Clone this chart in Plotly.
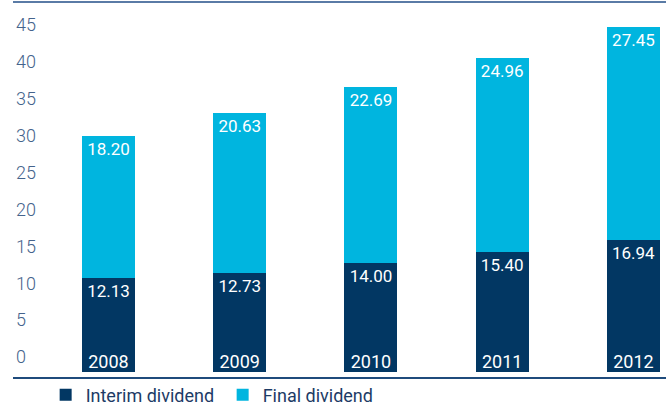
import plotly.graph_objects as go

years = ["2008", "2009", "2010", "2011", "2012"]
interim = [12.13, 12.73, 14.00, 15.40, 16.94]
final = [18.20, 20.63, 22.69, 24.96, 27.45]
tick_vals = [0, 5, 10, 15, 20, 25, 30, 35, 40, 45]

NAVY = "#023763"
CYAN = "#00b5df"
FONT = "Roboto"

fig = go.Figure()

fig.add_trace(go.Bar(x=years, y=interim, name="Interim dividend",
                     marker=dict(color=NAVY, line_width=0), hoverinfo="skip",
                     text=[f"{v:.2f}" for v in interim], textposition="inside",
                     insidetextanchor="end", textangle=0,
                     insidetextfont=dict(family=FONT, size=17, color="white")))
fig.add_trace(go.Bar(x=years, y=final, name="Final dividend",
                     marker=dict(color=CYAN, line_width=0), hoverinfo="skip",
                     text=[f"{v:.2f}" for v in final], textposition="inside",
                     insidetextanchor="end", textangle=0,
                     insidetextfont=dict(family=FONT, size=17, color="white")))
# year labels at the foot of each bar
fig.add_trace(go.Scatter(x=years, y=[0] * len(years), mode="text",
                         text=years, textposition="top center",
                         textfont=dict(family=FONT, size=18, color="white"),
                         showlegend=False, hoverinfo="skip"))
# invisible trace so the tick-label axis gets drawn
fig.add_trace(go.Scatter(x=years, y=tick_vals[:len(years)], yaxis="y2", mode="markers",
                         marker=dict(opacity=0), showlegend=False, hoverinfo="skip"))

fig.update_layout(
    width=666, height=405, autosize=False,
    margin=dict(l=13, r=0, t=2, b=28, autoexpand=False),
    plot_bgcolor="white", paper_bgcolor="white",
    barmode="stack", bargap=0.596,
    showlegend=True,
    legend=dict(orientation="h", x=0.05, xanchor="left", y=-0.048, yanchor="middle",
                traceorder="normal", bgcolor="rgba(0,0,0,0)",
                font=dict(family=FONT, size=18, color="#1d3b66"),
                entrywidth=132, entrywidthmode="pixels", itemclick=False),
    xaxis=dict(type="category", range=[-0.7276, 4.248], showticklabels=False,
               showgrid=False, zeroline=False, ticks="",
               showline=True, linecolor="#1f4b7c", linewidth=2),
    yaxis=dict(range=[-0.643, 47.57], showticklabels=False, showgrid=False,
               zeroline=False, ticks=""),
    yaxis2=dict(overlaying="y", anchor="x", side="left", range=[-2.71, 48.12],
                tickvals=tick_vals, ticklabelposition="inside", showgrid=False,
                zeroline=False, ticks="", showline=False,
                tickfont=dict(family=FONT, size=18, color="#44638c", weight=300)),
    shapes=[dict(type="line", xref="paper", yref="paper", x0=0, x1=1, y0=1, y1=1,
                 line=dict(color="#5a7ba6", width=2))],
)

fig.write_html("out.html", config={"displayModeBar": False},
               post_script="document.body.style.margin='0';")
